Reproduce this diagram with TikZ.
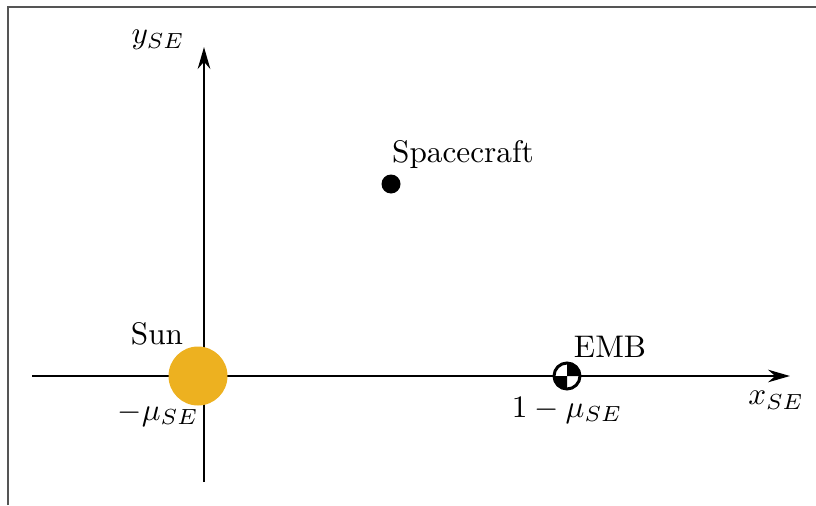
\documentclass[tikz,border=0pt]{standalone}
\usetikzlibrary{arrows.meta}
\definecolor{sunc}{HTML}{EDB120}
\definecolor{framec}{HTML}{555555}
\begin{document}
\begin{tikzpicture}[x=0.32pt,y=-0.32pt,
  axis/.style={line width=0.95pt,-{Stealth[length=7pt,width=4pt]}},
  lbl/.style={inner sep=0pt,font=\normalsize}]
\useasboundingbox (0,0) rectangle (816,505);
\draw[framec,line width=0.45pt] (8,505) -- (8,7) -- (816,7);
\coordinate (xs) at (32,376);
\coordinate (xe) at (790,376);
\coordinate (ys) at (204,482);
\coordinate (ye) at (204,47);
\draw[axis] (xs) -- (xe);
\draw[axis] (ys) -- (ye);
\fill[sunc] (198,376) circle (29.5);
\node[lbl] (sun) at (157,334) {Sun};
\node[lbl] (msun) at (158,414) {$-\mu_{SE}$};
\fill (391,184) circle (9.5);
\node[lbl] (sc) at (463,155) {Spacecraft};
% EMB symbol
\coordinate (emb) at (567,376);
\fill[white] (emb) circle (13);
\fill (emb) -- ++(13,0) arc[start angle=0,end angle=-90,radius=13] -- cycle;
\fill (emb) -- ++(-13,0) arc[start angle=180,end angle=90,radius=13] -- cycle;
\draw[line width=0.95pt] (emb) circle (13);
\node[lbl] (embl) at (610,347) {EMB};
\node[lbl] (oneminus) at (567,410) {$1-\mu_{SE}$};
\node[lbl] (xl) at (776,400) {$x_{SE}$};
\node[lbl] (yl) at (158,40) {$y_{SE}$};
\end{tikzpicture}
\end{document}
